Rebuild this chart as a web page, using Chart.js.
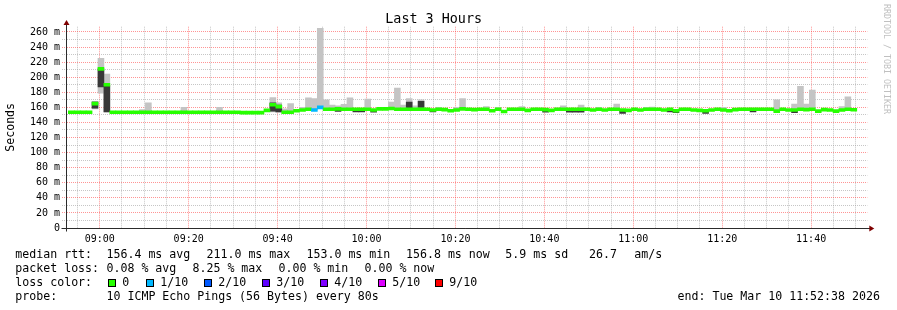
<!DOCTYPE html>
<html><head><meta charset="utf-8">
<script src="https://cdn.jsdelivr.net/npm/chart.js@4.4.1/dist/chart.umd.min.js"></script>
<style>
html,body{margin:0;padding:0;background:#fff;}
#wrap{position:relative;width:897px;height:310px;overflow:hidden;background:#fff;}
canvas{position:absolute;left:0;top:0;}
.t{position:absolute;font-family:'DejaVu Sans Mono',monospace;font-size:11.6px;line-height:14px;color:#000;white-space:pre;}
.sq{position:absolute;width:6px;height:6px;border:1px solid #000;top:279px;}
#rrd{position:absolute;left:882px;top:4px;writing-mode:vertical-rl;font-family:'DejaVu Sans Mono',monospace;font-size:8.3px;line-height:10px;color:#c0c0c0;white-space:pre;}
</style></head>
<body>
<div id="wrap">
<canvas id="c" width="897" height="310"></canvas>
<div id="rrd">RRDTOOL / TOBI OETIKER</div>
<div class="t" style="left:15.3px;top:247px">median rtt:</div>
<div class="t" style="left:106.5px;top:247px">156.4 ms avg</div>
<div class="t" style="left:206.5px;top:247px">211.0 ms max</div>
<div class="t" style="left:306.5px;top:247px">153.0 ms min</div>
<div class="t" style="left:406px;top:247px">156.8 ms now</div>
<div class="t" style="left:505.3px;top:247px">5.9 ms sd</div>
<div class="t" style="left:589px;top:247px">26.7</div>
<div class="t" style="left:634.2px;top:247px">am/s</div>
<div class="t" style="left:15.3px;top:261px">packet loss:</div>
<div class="t" style="left:106.5px;top:261px">0.08 % avg</div>
<div class="t" style="left:192.5px;top:261px">8.25 % max</div>
<div class="t" style="left:278.5px;top:261px">0.00 % min</div>
<div class="t" style="left:364.5px;top:261px">0.00 % now</div>
<div class="t" style="left:15.3px;top:275px">loss color:</div>
<div id="lossLegend"></div>
<div class="t" style="left:15.3px;top:289px">probe:</div>
<div class="t" style="left:106.5px;top:289px">10 ICMP Echo Pings (56 Bytes) every 80s</div>
<div class="t" style="left:677.5px;top:289px">end: Tue Mar 10 11:52:38 2026</div>
</div>
<script>
const N = null;
// time window
const windowStart = '08:52:38';
const windowEnd = '11:52:38';
const firstSample = '08:53:36';
const stepSeconds = 80;

// axis labels
const xTickLabels = ['09:00','09:20','09:40','10:00','10:20','10:40','11:00','11:20','11:40'];
const yTickValues = [0,20,40,60,80,100,120,140,160,180,200,220,240,260];
const yTickLabels = ['0','20 m','40 m','60 m','80 m','100 m','120 m','140 m','160 m','180 m','200 m','220 m','240 m','260 m'];

// median rtt (ms) per 80 s step
const medianRtt = [
153.5,153.5,153.5,153.5,165,211,190,153.5,153.5,153.5,
153.5,153.5,153.5,153.5,153.5,153.5,153.5,153.5,153.5,153.5,
153.5,153.5,153.5,153.5,153.5,153.5,153.5,153.5,153.5,153,
153,153,153,156,163.5,161,153.5,153.5,155.5,156.5,
157.5,156.5,160,157.5,157.5,158,157.5,157.5,157.5,157.5,
157.5,156.5,158,158,158.5,157.5,157.5,157.5,157.5,157.5,
157.5,156.5,157.5,157,155.5,156.5,158,157.5,157,157.5,
157.5,155.5,157.5,154.5,157.5,157.5,157.5,156,157.5,157.5,
157,156,157.5,157.5,157.5,157.5,157.5,157.5,156.5,157.5,
156.5,157.5,157.5,156.5,156,157.5,156.5,157.5,157.5,157.5,
156.5,157.5,155.5,157.5,157.5,156.5,156,155.5,156.5,157.5,
156.5,155.5,157,157.5,157.5,157.5,157.5,157.5,157.5,155,
157.5,156.5,156.5,157.5,157,157.5,155,157,156.5,155,
156.5,157.5,156.8];

// lost pings out of 10
const lossCount = [
0,0,0,0,0,0,0,0,0,0, 0,0,0,0,0,0,0,0,0,0, 0,0,0,0,0,0,0,0,0,0,
0,0,0,0,0,0,0,0,0,0, 0,1,1,0,0,0,0,0,0,0, 0,0,0,0,0,0,0,0,0,0,
0,0,0,0,0,0,0,0,0,0, 0,0,0,0,0,0,0,0,0,0, 0,0,0,0,0,0,0,0,0,0,
0,0,0,0,0,0,0,0,0,0, 0,0,0,0,0,0,0,0,0,0, 0,0,0,0,0,0,0,0,0,0,
0,0,0,0,0,0,0,0,0,0, 0,0,0];

// smoke: highest / lowest ping (null = no visible spread)
const rttMax = [
N,N,N,N,168,225,204,N,N,N,
N,N,157,166,N,N,N,N,N,160,
N,N,N,N,N,160,N,N,N,N,
N,N,N,N,173,166,158,165,N,160,
172.5,171.5,265,170,163,162,164,172.5,N,N,
171,N,N,N,167,185.5,163,171.5,162,170,
N,N,160,N,N,160,171.5,N,N,N,
161,N,160,N,N,N,161,N,N,N,
N,N,159,162,N,N,163,N,N,160,
N,N,164.5,N,N,N,N,160,160.5,N,
N,N,N,N,N,N,N,N,N,N,
160,N,N,N,N,N,N,N,N,170,
N,N,164.5,188,164.5,183,N,N,N,N,
161,174,N];
const rttMin = [
N,N,N,N,158,179,154,N,N,N,
N,N,N,N,N,N,N,N,N,N,
N,N,N,N,N,N,N,N,N,N,
N,N,N,N,154,153.5,N,N,N,N,
N,N,N,N,N,N,N,N,N,N, N,N,N,N,N,N,N,N,N,N,
N,N,N,N,N,N,N,N,N,N, N,N,N,N,N,N,N,N,N,N,
N,N,N,N,N,N,N,N,N,N, N,N,N,N,N,N,N,N,N,N,
N,N,N,N,N,N,N,N,N,N, N,N,N,N,N,N,N,N,N,N,
N,N,N,N,N,N,N,N,N,N, N,N,N];
// dense (dark) part of the smoke
const coreLo = [
N,N,N,N,159,187,154,N,N,N,
N,N,N,N,N,N,N,N,N,N,
N,N,N,N,N,N,N,N,N,N,
N,N,N,N,155,154,N,N,N,N,
N,N,N,N,N,154.5,N,N,154,154,
N,153.5,N,N,N,N,N,159,N,160,
N,154,N,N,N,N,N,N,N,N,
N,N,N,N,N,N,N,N,N,N,
153.5,N,N,N,153.5,153.5,153.5,N,N,N,
N,N,N,152,N,N,N,N,N,N,
N,154,153,N,N,N,N,152,N,N,
N,N,N,N,N,154,N,N,N,N,
N,N,153,N,N,N,N,N,N,N,
N,N,N];
const coreHi = [
N,N,N,N,167,211,189,N,N,N,
N,N,N,N,N,N,N,N,N,N,
N,N,N,N,N,N,N,N,N,N,
N,N,N,N,166,163,N,N,N,N,
N,N,N,N,N,157,N,N,157,157,
N,156,N,N,N,N,N,167,N,168,
N,157,N,N,N,N,N,N,N,N,
N,N,N,N,N,N,N,N,N,N,
156,N,N,N,156,156,156,N,N,N,
N,N,N,156,N,N,N,N,N,N,
N,157,156,N,N,N,N,155,N,N,
N,N,N,N,N,157,N,N,N,N,
N,N,156,N,N,N,N,N,N,N,
N,N,N];

const lossLabels = ['0','1/10','2/10','3/10','4/10','5/10','9/10'];
const lossColors = ['#26ff00','#00b8ff','#0059ff','#5e00ff','#7e00ff','#dd00ff','#ff0000'];

// ---------- legend squares ----------
const sqX = [108,146,204,262,320,378,435];
const lg = document.getElementById('lossLegend');
lossLabels.forEach((lab, k) => {
  const s = document.createElement('div');
  s.className = 'sq'; s.style.left = sqX[k] + 'px'; s.style.background = lossColors[k];
  lg.appendChild(s);
  const t = document.createElement('div');
  t.className = 't'; t.style.left = (sqX[k] + 14.2) + 'px'; t.style.top = '275px';
  t.textContent = lab;
  lg.appendChild(t);
});

// ---------- helpers ----------
const toMin = s => { const p = s.split(':').map(Number); return p[0]*60 + p[1] + (p[2]||0)/60; };
const t0 = toMin(windowStart);
const span = toMin(windowEnd) - t0;
const firstX = toMin(firstSample) - t0;
const xs = medianRtt.map((_, i) => firstX + i * stepSeconds / 60);
const fmt = v => { const tot = Math.round(t0 + v); const h = Math.floor(tot/60) % 24, m = tot % 60; return String(h).padStart(2,'0') + ':' + String(m).padStart(2,'0'); };
const lossColor = c => c <= 0 ? lossColors[0] : c <= 4 ? lossColors[c] : c <= 8 ? lossColors[5] : lossColors[6];

const majorX = xTickLabels.map(l => toMin(l) - t0);
const gridX = [];
for (let v = majorX[0] - 5; v <= span; v += 5) if (v >= 0) gridX.push(v);
const gridY = [];
for (let v = 0; v <= yTickValues[yTickValues.length-1]; v += 10) gridY.push(v);

const RED = 'rgba(255,60,60,0.55)';
const GREY = 'rgba(160,160,160,0.6)';

const medianData = xs.map((x, i) => ({x, y: [medianRtt[i] - 2, medianRtt[i] + 2]}));
const smokeData = [];
xs.forEach((x, i) => {
  if (rttMax[i] !== null || rttMin[i] !== null)
    smokeData.push({x, y: [rttMin[i] ?? medianRtt[i], rttMax[i] ?? medianRtt[i]]});
});
const coreData = [];
xs.forEach((x, i) => { if (coreLo[i] !== null) coreData.push({x, y: [coreLo[i], coreHi[i]]}); });

const barCommon = {grouped: false, barPercentage: 1, categoryPercentage: 1, borderWidth: 0, borderSkipped: false};

const axesPlugin = {
  id: 'rrdAxes',
  afterDatasetsDraw(chart) {
    const {ctx, chartArea: a} = chart;
    ctx.save();
    ctx.strokeStyle = '#2b2b2b'; ctx.lineWidth = 1;
    const x0 = Math.round(a.left) - 0.5;
    const yb = Math.round(a.bottom) + 0.5;
    ctx.beginPath();
    ctx.moveTo(x0, yb + 3); ctx.lineTo(x0, 24);
    ctx.moveTo(x0 - 5, yb); ctx.lineTo(a.right + 3, yb);
    ctx.stroke();
    ctx.fillStyle = '#7f0000';
    ctx.beginPath(); ctx.moveTo(x0 - 3, 25); ctx.lineTo(x0 + 3, 25); ctx.lineTo(x0, 20); ctx.closePath(); ctx.fill();
    ctx.beginPath(); ctx.moveTo(a.right + 2, yb - 3); ctx.lineTo(a.right + 2, yb + 3); ctx.lineTo(a.right + 7, yb); ctx.closePath(); ctx.fill();
    ctx.restore();
  }
};

new Chart(document.getElementById('c'), {
  type: 'bar',
  data: {
    datasets: [
      Object.assign({label: 'median rtt', data: medianData, order: 0,
        backgroundColor: medianRtt.map((_, i) => lossColor(lossCount[i]))}, barCommon),
      Object.assign({label: 'smoke core', data: coreData, order: 1, backgroundColor: '#383838'}, barCommon),
      Object.assign({label: 'smoke', data: smokeData, order: 2, backgroundColor: '#c4c4c4'}, barCommon)
    ]
  },
  options: {
    responsive: false, animation: false, devicePixelRatio: 1,
    layout: {padding: {left: 0, right: 29.7, top: 0, bottom: 0}},
    plugins: {
      legend: {display: false}, tooltip: {enabled: false},
      title: {display: true, text: 'Last 3 Hours', color: '#000',
        font: {family: 'DejaVu Sans Mono', size: 13.4, weight: 'normal', lineHeight: '13.7px'},
        padding: {top: 13, bottom: 0}}
    },
    scales: {
      x: {
        type: 'linear', min: 0, max: span, offset: false,
        afterBuildTicks: s => { s.ticks = gridX.map(v => ({value: v})); },
        afterFit: s => { s.height = 82; },
        grid: {offset: false, drawTicks: false, lineWidth: 1,
          color: c => xTickLabels.includes(fmt(c.tick.value)) ? RED : GREY},
        border: {display: false, dash: [1, 1]},
        ticks: {autoSkip: false, maxRotation: 0, minRotation: 0, padding: 5, color: '#000',
          font: {family: 'DejaVu Sans Mono', size: 10},
          callback: v => { const s = fmt(v); return xTickLabels.includes(s) ? s : ''; }}
      },
      y: {
        type: 'linear', min: 0, max: 267,
        afterBuildTicks: s => { s.ticks = gridY.map(v => ({value: v})); },
        afterFit: s => { s.width = 67; },
        grid: {drawTicks: true, tickLength: 5, lineWidth: 1, tickBorderDash: [1, 1],
          color: c => (c.tick.value % 20 === 0) ? RED : GREY},
        border: {display: false, dash: [1, 1]},
        title: {display: true, text: 'Seconds', color: '#000',
          font: {family: 'DejaVu Sans Mono', size: 11.6, weight: 'normal'}, padding: {top: 4, bottom: 0}},
        ticks: {padding: 2, color: '#000', autoSkip: false,
          font: {family: 'DejaVu Sans Mono', size: 10},
          callback: v => { const k = yTickValues.indexOf(v); return k >= 0 ? yTickLabels[k] : ''; }}
      }
    }
  },
  plugins: [axesPlugin]
});
</script>
</body></html>
